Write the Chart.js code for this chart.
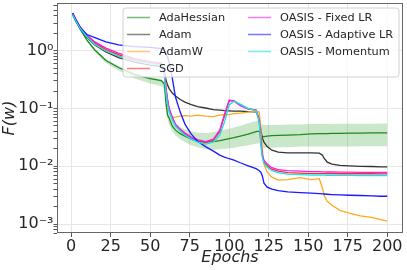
<!DOCTYPE html>
<html><head><meta charset="utf-8">
<script src="https://cdn.jsdelivr.net/npm/chart.js@4.4.0/dist/chart.umd.min.js"></script>
<style>html,body{margin:0;padding:0;background:#fff;}#wrap{width:407px;height:270px;}</style>
</head><body><div id="wrap"><canvas id="c" width="407" height="270"></canvas></div>
<script>
const epochs = [1,3,6,10,15,22,30,40,50,57, 59,60,61,62,64,66,69,72,76,80, 85,90,94,97,100,103,107,112,117,119, 120,121,122,124,127,131,137,145,152,157, 159,160,162,165,170,176,183,190,196,200];

const adaHessian = [4.41,3.27,2.29,1.53,1.03,0.676,0.512,0.387,0.330,0.304, 0.265,0.124,0.0769,0.0682,0.0495,0.0422,0.0367,0.0332,0.0295,0.0272, 0.0265,0.0267,0.0278,0.0289,0.0301,0.0313,0.0332,0.0360,0.0398,0.0406, 0.0360,0.0326,0.0326,0.0332,0.0339,0.0342,0.0346,0.0353,0.0363,0.0367, 0.0367,0.0367,0.0368,0.0370,0.0372,0.0375,0.0376,0.0378,0.0379,0.0379];
const adaHessianUpper = [4.50,3.34,2.33,1.60,1.07,0.718,0.543,0.411,0.350,0.323, 0.287,0.158,0.106,0.0832,0.0655,0.0558,0.0476,0.0431,0.0398,0.0382, 0.0375,0.0390,0.0414,0.0431,0.0448,0.0467,0.0505,0.0558,0.0605,0.0630, 0.0558,0.0516,0.0516,0.0516,0.0516,0.0516,0.0526,0.0526,0.0537,0.0537, 0.0537,0.0537,0.0537,0.0537,0.0547,0.0547,0.0547,0.0547,0.0552,0.0552];
const adaHessianLower = [4.33,3.21,2.19,1.44,0.950,0.612,0.454,0.330,0.270,0.244, 0.217,0.0938,0.0630,0.0516,0.0406,0.0346,0.0295,0.0262,0.0232,0.0214, 0.0198,0.0194,0.0198,0.0202,0.0206,0.0210,0.0219,0.0232,0.0246,0.0251, 0.0232,0.0210,0.0210,0.0210,0.0210,0.0214,0.0214,0.0219,0.0219,0.0219, 0.0219,0.0219,0.0219,0.0219,0.0220,0.0220,0.0223,0.0223,0.0223,0.0223];
const adam = [4.16,3.21,2.33,1.69,1.26,0.950,0.762,0.637,0.565,0.532, 0.427,0.311,0.254,0.221,0.185,0.164,0.143,0.129,0.117,0.108, 0.102,0.0957,0.0938,0.0920,0.0912,0.0901,0.0901,0.0884,0.0877,0.0682, 0.0422,0.0307,0.0262,0.0219,0.0190,0.0176,0.0171,0.0171,0.0171,0.0169, 0.0156,0.0138,0.0118,0.0109,0.0104,0.0102,0.0100,0.00992,0.00976,0.00976];
const adamW = [4.41,3.40,2.43,1.80,1.33,1.03,0.842,0.704,0.624,0.588, 0.427,0.226,0.140,0.0938,0.0696,0.0710,0.0738,0.0753,0.0738,0.0769, 0.0738,0.0724,0.0769,0.0784,0.0784,0.0816,0.0832,0.0866,0.0901,0.0866, 0.0422,0.0190,0.0109,0.00790,0.00647,0.00574,0.00586,0.00635,0.00586,0.00610, 0.00417,0.00315,0.00248,0.00212,0.00173,0.00154,0.00139,0.00131,0.00119,0.00112];
const sgd = [4.41,3.40,2.47,1.80,1.36,1.05,0.859,0.704,0.624,0.588, 0.395,0.208,0.134,0.0938,0.0682,0.0516,0.0422,0.0360,0.0307,0.0272, 0.0256,0.0283,0.0398,0.0738,0.134,0.137,0.115,0.0996,0.0938,0.0605, 0.0262,0.0150,0.0120,0.0102,0.00891,0.00822,0.00774,0.00759,0.00745,0.00745, 0.00745,0.00745,0.00744,0.00744,0.00743,0.00743,0.00742,0.00742,0.00741,0.00741];
const oasisFixed = [4.50,3.54,2.52,1.87,1.42,1.11,0.912,0.732,0.650,0.612, 0.427,0.226,0.146,0.102,0.0710,0.0537,0.0440,0.0375,0.0319,0.0289, 0.0267,0.0295,0.0422,0.0799,0.140,0.134,0.112,0.0976,0.0938,0.0630, 0.0283,0.0156,0.0128,0.0109,0.00946,0.00873,0.00839,0.00822,0.00806,0.00806, 0.00799,0.00799,0.00796,0.00796,0.00790,0.00790,0.00783,0.00783,0.00781,0.00781];
const oasisAdaptive = [4.50,3.40,2.47,1.91,1.69,1.42,1.26,1.18,1.14,1.09, 1.01,0.912,0.778,0.637,0.336,0.158,0.0866,0.0537,0.0360,0.0272, 0.0219,0.0183,0.0156,0.0144,0.0135,0.0128,0.0115,0.0102,0.00909,0.00839, 0.00790,0.00674,0.00509,0.00434,0.00401,0.00378,0.00360,0.00349,0.00342,0.00335, 0.00332,0.00331,0.00328,0.00324,0.00319,0.00315,0.00312,0.00308,0.00303,0.00303];
const oasisMomentum = [4.24,3.27,2.38,1.73,1.28,0.988,0.809,0.676,0.600,0.565, 0.364,0.185,0.119,0.0866,0.0630,0.0495,0.0406,0.0346,0.0295,0.0262, 0.0242,0.0262,0.0346,0.0581,0.115,0.134,0.119,0.0996,0.0920,0.0581, 0.0232,0.0138,0.0113,0.00965,0.00839,0.00774,0.00730,0.00715,0.00701,0.00701, 0.00701,0.00701,0.00699,0.00699,0.00696,0.00696,0.00693,0.00693,0.00693,0.00693];

const seriesNames = ['AdaHessian','Adam','AdamW','SGD','OASIS - Fixed LR','OASIS - Adaptive LR','OASIS - Momentum'];
const seriesValues = [adaHessian, adam, adamW, sgd, oasisFixed, oasisAdaptive, oasisMomentum];
const seriesColors = ['#1f8a1f','#333333','#ffa91f','#ff2a2a','#f020f0','#1a1aff','#12e6e6'];
const xTicks = [0,25,50,75,100,125,150,175,200];
const yTicks = [1e-3,1e-2,1e-1,1];
const yTickLabels = ['10\u207B\u00B3','10\u207B\u00B2','10\u207B\u00B9','10\u2070'];
const xTitle = 'Epochs';
const yTitle = 'F(w)';

const toXY = arr => epochs.map((e,i)=>({x:e, y:arr[i]}));

const datasets = [
  {label:'_upper', data:toXY(adaHessianUpper), borderWidth:0, pointRadius:0, fill:false, order:30, borderColor:'rgba(0,0,0,0)'},
  {label:'_lower', data:toXY(adaHessianLower), borderWidth:0, pointRadius:0, fill:'-1', order:29, borderColor:'rgba(0,0,0,0)', backgroundColor:'rgba(44,160,44,0.25)'}
];
seriesNames.forEach((n,i)=>{
  datasets.push({label:n, data:toXY(seriesValues[i]), borderColor:seriesColors[i], borderWidth:1.3, pointRadius:0, fill:false, tension:0, order:20-i});
});

const minorY = [];
[1e-4,1e-3,1e-2,1e-1,1].forEach(d=>{for(let k=1;k<10;k++){const v=+(d*k).toPrecision(3); if(v>=7e-4 && v<=6.7) minorY.push(v);}});

const framePlugin = {
  id:'frameLegend',
  afterDatasetsDraw(chart){
    const {ctx, chartArea:a} = chart;
    ctx.save();
    ctx.strokeStyle = '#666';
    ctx.lineWidth = 1;
    ctx.strokeRect(Math.round(a.left)+0.5, Math.round(a.top)+0.5, Math.round(a.right-a.left)-1, Math.round(a.bottom-a.top)-1);
    const bx = a.left + 66, by = a.top + 5, bw = a.right - 4 - bx, bh = 69, r = 3;
    ctx.beginPath();
    ctx.moveTo(bx+r,by); ctx.lineTo(bx+bw-r,by); ctx.quadraticCurveTo(bx+bw,by,bx+bw,by+r);
    ctx.lineTo(bx+bw,by+bh-r); ctx.quadraticCurveTo(bx+bw,by+bh,bx+bw-r,by+bh);
    ctx.lineTo(bx+r,by+bh); ctx.quadraticCurveTo(bx,by+bh,bx,by+bh-r);
    ctx.lineTo(bx,by+r); ctx.quadraticCurveTo(bx,by,bx+r,by); ctx.closePath();
    ctx.fillStyle = 'rgba(255,255,255,0.8)'; ctx.fill();
    ctx.strokeStyle = '#d0d0d0'; ctx.stroke();
    ctx.font = '11.3px "DejaVu Sans"';
    ctx.textBaseline = 'middle';
    const colX = [bx+4, bx+125];
    seriesNames.forEach((n,i)=>{
      const col = i<4?0:1, row = i<4?i:i-4;
      const x0 = colX[col], y0 = by + 9 + row*17;
      ctx.globalAlpha = 0.6;
      ctx.strokeStyle = seriesColors[i]; ctx.lineWidth = 1.5;
      ctx.beginPath(); ctx.moveTo(x0,y0+0.5); ctx.lineTo(x0+23,y0+0.5); ctx.stroke();
      ctx.globalAlpha = 1;
      ctx.fillStyle = '#262626';
      ctx.fillText(n, x0+32, y0+1);
    });
    ctx.restore();
  }
};

new Chart(document.getElementById('c'), {
  type:'line',
  data:{datasets},
  options:{
    responsive:false, animation:false, devicePixelRatio:1,
    layout:{padding:{top:3,right:4,left:0,bottom:0}},
    plugins:{legend:{display:false}, tooltip:{enabled:false}},
    scales:{
      x:{type:'linear', min:-8.95, max:209.95,
        afterBuildTicks:s=>{s.ticks = xTicks.map(v=>({value:v}));},
        afterFit:s=>{s.height = 37; s.paddingLeft = 0; s.paddingRight = 0;},
        grid:{color:'#e6e6e6', lineWidth:1, tickLength:4, tickColor:'#555'},
        border:{display:false},
        ticks:{autoSkip:false, maxRotation:0, padding:0, color:'#262626', font:{family:'DejaVu Sans', size:16}, callback:v=>String(v)},
        title:{display:true, text:xTitle, color:'#262626', font:{family:'DejaVu Sans', size:16, style:'italic'}, padding:{top:0,bottom:3}}
      },
      y:{type:'logarithmic', min:7e-4, max:6.7, bounds:'data',
        afterBuildTicks:s=>{s.ticks = minorY.map(v=>({value:v}));},
        afterFit:s=>{s.width = 57; s.paddingTop = 0; s.paddingBottom = 0;},
        grid:{color:c=>(c.tick && yTicks.some(t=>Math.abs(t-c.tick.value)<t*1e-6))?'#e6e6e6':'rgba(0,0,0,0)', lineWidth:1, tickLength:3.5, tickColor:'#555'},
        border:{display:false},
        ticks:{autoSkip:false, padding:0, color:'#262626', font:{family:'DejaVu Sans', size:16},
          callback:(v)=>{const i = yTicks.findIndex(t=>Math.abs(t-v)<t*1e-6); return i>=0?yTickLabels[i]:'';}},
        title:{display:true, text:yTitle, color:'#262626', font:{family:'DejaVu Sans', size:16, style:'italic'}, padding:{top:0,bottom:0}}
      }
    }
  },
  plugins:[framePlugin]
});
</script></body></html>
